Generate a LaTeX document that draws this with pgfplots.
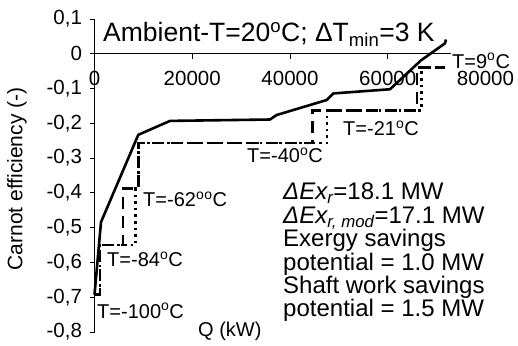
\documentclass[border=0pt]{standalone}
\usepackage{fontspec}
\setmainfont{Liberation Sans}
\usepackage{pgfplots}
\pgfplotsset{compat=1.18}
\newcommand{\dg}{\textsuperscript{o}}
\begin{document}
\begin{tikzpicture}[x=1pt,y=1pt]
\useasboundingbox (0,0) rectangle (518,345);
\begin{axis}[
  at={(94.5pt,13pt)}, anchor=south west,
  scale only axis, width=391pt, height=313pt,
  xmin=0, xmax=80000, ymin=-0.8, ymax=0.1,
  axis x line*=middle, axis y line*=left,
  hide obscured x ticks=false, hide obscured y ticks=false,
  xtick={0,20000,40000,60000,80000},
  ytick={-0.8,-0.7,-0.6,-0.5,-0.4,-0.3,-0.2,-0.1,0,0.1},
  scaled x ticks=false, scaled y ticks=false,
  xticklabel style={/pgf/number format/1000 sep={}, yshift=-9pt},
  yticklabel style={/pgf/number format/.cd, fixed, fixed zerofill=false, use comma, precision=1, /tikz/.cd, xshift=-4pt},
  /pgf/number format/assume math mode=true,
  tick align=outside, major tick length=5pt,
  tick style={black, line width=0.8pt},
  axis line style={black, line width=0.8pt},
  ticklabel style={font=\fontsize{20.5}{24}\selectfont},
  clip=false,
]
% solid curve
\addplot[black, line width=2.6pt, line join=round] coordinates {
(0,-0.693) (1330,-0.484) (8960,-0.233) (15450,-0.193) (35900,-0.189)
(37280,-0.176) (47500,-0.133) (48860,-0.114) (60460,-0.102)
(66800,-0.019) (71700,0.030) (71920,0.041)};
% dashed staircase
\addplot[black, line width=2.6pt, dash pattern=on 12pt off 7pt] coordinates {
(0,-0.693) (1100,-0.693) (1100,-0.550) (5800,-0.550) (5800,-0.388)
(9000,-0.388) (9000,-0.257) (44600,-0.257) (44600,-0.163)
(66000,-0.163) (66000,-0.039) (71700,-0.039)};
% dotted staircase
\addplot[black, line width=2.6pt, dash pattern=on 2.6pt off 4pt] coordinates {
(0,-0.693) (1100,-0.693) (1100,-0.550) (8400,-0.550) (8400,-0.388)
(9000,-0.388) (9000,-0.257) (47600,-0.257) (47600,-0.163)
(66900,-0.163) (66900,-0.039) (71900,-0.039)};
\end{axis}
\begin{scope}[every node/.style={inner sep=0pt, anchor=base west}]
\node[font=\fontsize{26.5}{30}\selectfont] at (103,303.3) {Ambient-T=20\dg C; ΔT\textsubscript{min}=3 K};
\node[font=\fontsize{20}{24}\selectfont, fill=white, inner sep=1pt] at (451,276.7) {T=9\dg C};
\node[font=\fontsize{20}{24}\selectfont] at (343,209) {T=-21\dg C};
\node[font=\fontsize{20}{24}\selectfont] at (247,182) {T=-40\dg C};
\node[font=\fontsize{20}{24}\selectfont] at (143,138.3) {T=-62\dg\dg C};
\node[font=\fontsize{20}{24}\selectfont] at (107,78.3) {T=-84\dg C};
\node[font=\fontsize{20}{24}\selectfont] at (97,26.7) {T=-100\dg C};
\node[font=\fontsize{20}{24}\selectfont] at (198,8.3) {Q (kW)};
\node[font=\fontsize{24}{28}\selectfont] at (283,145) {\textit{ΔEx\textsubscript{r}}=18.1 MW};
\node[font=\fontsize{24}{28}\selectfont] at (283,121.7) {\textit{ΔEx\textsubscript{r, mod}}=17.1 MW};
\node[font=\fontsize{24}{28}\selectfont] at (283,98.3) {Exergy savings};
\node[font=\fontsize{24}{28}\selectfont] at (283,75) {potential = 1.0 MW};
\node[font=\fontsize{24}{28}\selectfont] at (283,51.7) {Shaft work savings};
\node[font=\fontsize{24}{28}\selectfont] at (283,28.3) {potential = 1.5 MW};
\node[font=\fontsize{21}{25}\selectfont, rotate=90, anchor=center] at (17,166) {Carnot efficiency (-)};
\end{scope}
\end{tikzpicture}
\end{document}
